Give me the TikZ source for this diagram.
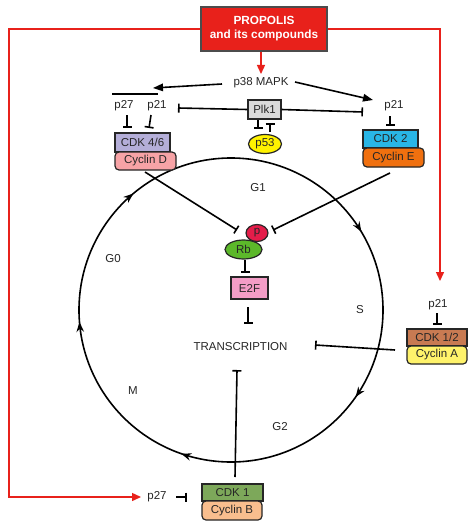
\documentclass[tikz,border=0pt]{standalone}
\usepackage{fontspec}
\setmainfont{Liberation Sans}
\usetikzlibrary{arrows.meta,decorations.markings,shapes.geometric}
\definecolor{propred}{HTML}{E8211B}
\definecolor{cdkfs}{HTML}{B4AED8}
\definecolor{cycd}{HTML}{F7A3A6}
\definecolor{cdktwo}{HTML}{29B6E6}
\definecolor{cyce}{HTML}{F0700F}
\definecolor{plkgray}{HTML}{DADADA}
\definecolor{pyellow}{HTML}{FFF200}
\definecolor{pred}{HTML}{E51D4A}
\definecolor{rbgreen}{HTML}{5CB82A}
\definecolor{etwof}{HTML}{F39DC6}
\definecolor{cdkot}{HTML}{C87A52}
\definecolor{cyca}{HTML}{FFF36B}
\definecolor{cdkone}{HTML}{7DA85A}
\definecolor{cycb}{HTML}{F9BE8E}
\begin{document}
\begin{tikzpicture}[x=1pt,y=-1pt,
  font=\fontsize{11.5}{13}\selectfont,
  lbl/.style={inner sep=0pt, text=black!85},
  kbox/.style={draw=black!85, line width=1.2pt, inner sep=0pt, text=black!85},
  cbox/.style={kbox, rounded corners=4pt},
  conn/.style={line width=1.6pt, black},
  inh/.style={conn, -{Bar[width=9pt,line width=1.6pt]}},
  act/.style={conn, -{Triangle[length=10pt,width=7.5pt]}},
  redl/.style={line width=1.4pt, propred},
  reda/.style={redl, -{Triangle[length=9pt,width=8pt]}},
  cyclepath/.style={line width=1.6pt, postaction={decorate}, decoration={markings,
    mark=at position 0.097 with {\arrow{Stealth[length=10pt,width=7.5pt]}},
    mark=at position 0.303 with {\arrow{Stealth[length=10pt,width=7.5pt]}},
    mark=at position 0.4875 with {\arrow{Stealth[length=10pt,width=7.5pt]}},
    mark=at position 0.639 with {\arrow{Stealth[length=10pt,width=7.5pt]}},
    mark=at position 0.914 with {\arrow{Stealth[length=10pt,width=7.5pt]}}}}]
\useasboundingbox (0,0) rectangle (474,527);
\fill[white] (0,0) rectangle (474,527);

% cell cycle
\draw[cyclepath] (231,310) ++(0:152) arc[start angle=0,end angle=360,radius=152];

% propolis
\node[draw=black!70, line width=1.1pt, fill=propred, text=white, font=\bfseries\fontsize{11.8}{14}\selectfont,
  align=center, minimum width=126, minimum height=44, inner sep=0pt] (prop) at (264,29) {PROPOLIS\\and its compounds};

\node[lbl] (p38) at (261,83) {p38 MAPK};
\node[lbl] (p27a) at (124,106) {p27};
\node[lbl] (p21a) at (157,106) {p21};
\node[kbox, fill=plkgray, minimum width=33, minimum height=19] (plk) at (264.5,109.5) {Plk1};
\node[lbl] (p21b) at (394,106) {p21};
\node[kbox, ellipse, fill=pyellow, minimum width=33, minimum height=19] (p53) at (265,144) {p53};

\node[kbox, fill=cdkfs, minimum width=55, minimum height=19] (cdkfs) at (142.5,142.5) {CDK 4/6};
\node[cbox, fill=cycd, minimum width=61, minimum height=18] (cycd) at (145.5,161) {Cyclin D};
\node[kbox, fill=cdktwo, minimum width=55, minimum height=18] (cdktwo) at (390.5,139) {CDK 2};
\node[cbox, fill=cyce, minimum width=61, minimum height=19] (cyce) at (393.5,157.5) {Cyclin E};

\node[kbox, ellipse, fill=pred, minimum width=22, minimum height=17] (pp) at (257,233) {p};
\node[kbox, ellipse, fill=rbgreen, minimum width=37, minimum height=19] (rb) at (243.5,249.5) {Rb};
\node[kbox, fill=etwof, minimum width=37, minimum height=22] (e2f) at (249.5,288) {E2F};
\node[lbl] (trans) at (240.5,347) {TRANSCRIPTION};

\node[lbl] at (258,188) {G1};
\node[lbl] at (113,259) {G0};
\node[lbl] at (360,310) {S};
\node[lbl] at (133,391) {M};
\node[lbl] at (280,427) {G2};

\node[lbl] (p21c) at (438,305) {p21};
\node[kbox, fill=cdkot, minimum width=60, minimum height=17] (cdkot) at (437,337.5) {CDK 1/2};
\node[cbox, fill=cyca, minimum width=60, minimum height=18] (cyca) at (437,355) {Cyclin A};

\node[kbox, fill=cdkone, minimum width=61, minimum height=17] (cdkone) at (232.5,492.5) {CDK 1};
\node[cbox, fill=cycb, minimum width=60, minimum height=19] (cycb) at (232,510.5) {Cyclin B};
\node[lbl] (p27b) at (157,497) {p27};

% coordinates
\coordinate (redtip) at (261,74);
\coordinate (lc) at (9,29);
\coordinate (lb) at (9,497);
\coordinate (ltip) at (141,497);
\coordinate (rc) at (440,29);
\coordinate (rtip) at (440,281);
\coordinate (grpL) at (112,94);
\coordinate (grpR) at (158,94);

% red connectors
\draw[reda] (prop.south -| redtip) -- (redtip);
\draw[reda] (prop.west) -- (lc) -- (lb) -- (ltip);
\draw[reda] (prop.east) -- (rc) -- (rtip);

% p38 arrows
\draw[conn] (grpL) -- (grpR);
\draw[act] (222,84) -- (153,88);
\draw[act] (295,82) -- (373,100);

% Plk1
\draw[inh] (plk.west) -- (178,108);
\draw[inh] (plk.east) -- (363,112);
\draw[inh] (258,120) -- (258,129);
\draw[inh] (270,132) -- (270,123);

% p27/p21 to CDK
\draw[inh] (127,115) -- (127,128);
\draw[inh] (151,115) -- (149,128);
\draw[inh] (390,116) -- (390,126);

% to p/Rb
\draw[inh] (145,172) -- (237,230);
\draw[inh] (390,173) -- (273,230);
\draw[inh] (245,260) -- (245,273);
\draw[inh] (248,307) -- (248,324);

% to transcription
\draw[inh] (437,313) -- (437,325);
\draw[inh] (395,350) -- (315,345);
\draw[inh] (235,477) -- (237,370);
\draw[inh] (176,497) -- (187,497);
\end{tikzpicture}
\end{document}
